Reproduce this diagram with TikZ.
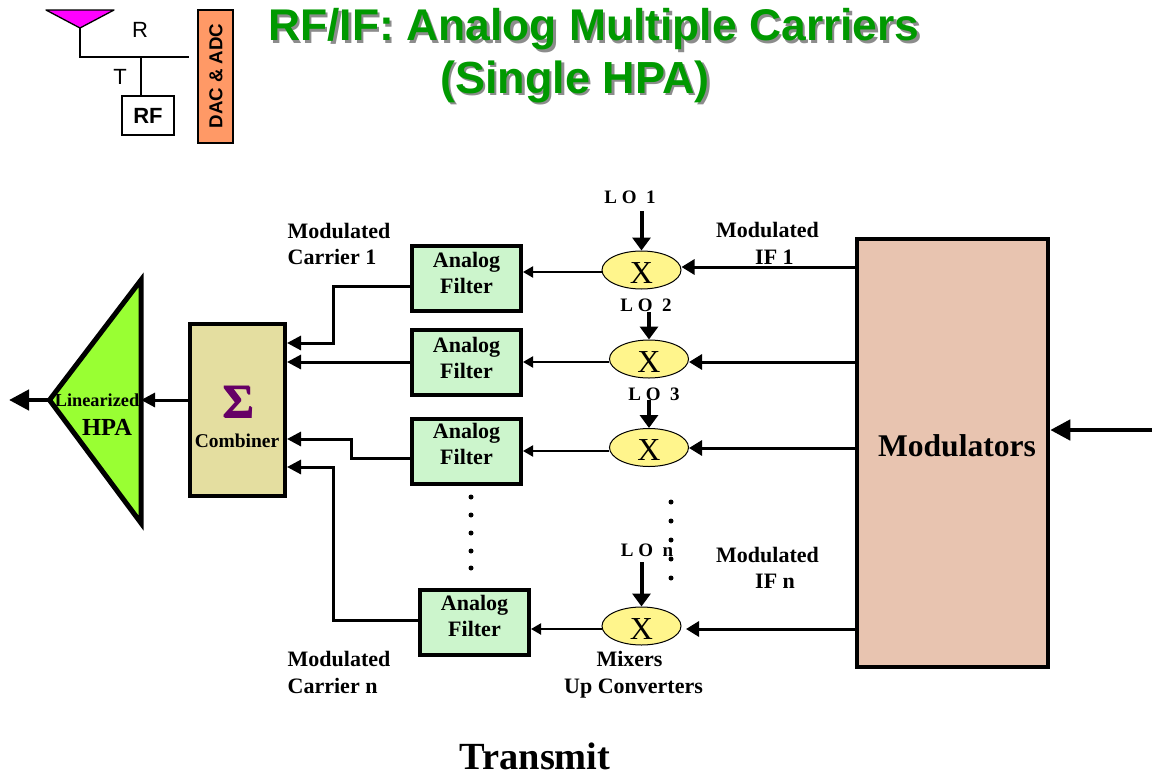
\documentclass[tikz,border=0pt]{standalone}
\usepackage{fontspec}
\setmainfont{Liberation Serif}
\newfontfamily\arialf{Liberation Sans}
\usetikzlibrary{arrows.meta,shapes.geometric,calc}
\definecolor{titleg}{RGB}{0,153,0}
\definecolor{filtg}{RGB}{204,245,204}
\definecolor{combf}{RGB}{228,222,160}
\definecolor{modf}{RGB}{232,196,176}
\definecolor{mixf}{RGB}{255,245,140}
\definecolor{hpaf}{RGB}{153,255,51}
\definecolor{dacf}{RGB}{255,153,102}
\definecolor{antf}{RGB}{255,0,255}
\definecolor{sigf}{RGB}{102,0,102}
\newcommand{\fs}[2]{\fontsize{#1}{#2}\selectfont}
\newcommand{\afilter}[1]{\raisebox{#1}[0pt][0pt]{\begin{tabular}{@{}c@{}}Analog\\Filter\end{tabular}}}
\newcommand{\xmark}{\raisebox{-13pt}[0pt][0pt]{X}}
\newcommand{\shadowed}[3]{\raisebox{-#1}{\rlap{\kern#1\textcolor{#2}{#3}}}#3}
\tikzset{
  filt/.style={draw,line width=4pt,fill=filtg,minimum width=109pt,minimum height=65pt,inner sep=0pt,font=\fs{22}{26}\bfseries},
  mixer/.style={ellipse,draw,line width=1pt,fill=mixf,minimum width=79pt,minimum height=38pt,inner sep=0pt,font=\fs{32}{32}},
  lbl/.style={font=\fs{22}{26.5}\bfseries,inner sep=0pt,align=left},
  lo/.style={font=\fs{19}{20}\bfseries,inner sep=0pt},
  big/.style={-{Triangle[length=20pt,width=20pt]},line width=4.5pt},
  med/.style={-{Triangle[length=13pt,width=15pt]},line width=3pt},
  loa/.style={-{Triangle[length=13pt,width=18pt]},line width=4pt},
  thinar/.style={-{Triangle[length=10pt,width=11pt]},line width=2pt},
  comb/.style={-{Triangle[length=14pt,width=14pt]},line width=3pt},
  pt/.style={circle,fill=black,inner sep=0pt,minimum size=5pt},
  thinl/.style={line width=1.3pt},
  x=1pt,y=-1pt
}
\begin{document}
\begin{tikzpicture}
\useasboundingbox (0,0) rectangle (1152,777);
% top-left inset
\node[draw,thinl,minimum width=52pt,minimum height=39pt,inner sep=0pt,font=\arialf\fs{22}{24}\bfseries] (rf) at (148,115.5) {RF};
\node[draw,thinl,fill=dacf,minimum width=35pt,minimum height=133pt,inner sep=0pt] (dac) at (215.5,76.5) {};
\node[rotate=90,font=\arialf\fs{18.7}{20}\bfseries,inner sep=0pt] (dact) at (216,76) {DAC \& ADC};
\node[font=\arialf\fs{22}{24},inner sep=0pt] (rl) at (140,30) {R};
\node[font=\arialf\fs{22}{24},inner sep=0pt] (tl) at (120,77) {T};
\coordinate (antL) at (46,10); \coordinate (antR) at (114,10); \coordinate (antB) at (80,28);
\coordinate (busL) at (80,57); \coordinate (busR) at (189,57); \coordinate (busT) at (141,57);
\draw[thinl,fill=antf,line join=round] (antL) -- (antR) -- (antB) -- cycle;
\draw[thinl] (antB) -- (busL) -- (busR);
\draw[thinl] (busT) -- (rf.north -| busT);
% title
\node[font=\arialf\fs{44.4}{50}\bfseries,text=titleg,inner sep=0pt] (t1) at (594,30.5) {\shadowed{2.5pt}{black!45}{RF/IF: Analog Multiple Carriers}};
\node[font=\arialf\fs{45}{50}\bfseries,text=titleg,inner sep=0pt] (t2) at (575,83) {\shadowed{2.5pt}{black!45}{(Single HPA)}};
% HPA
\coordinate (hpaA) at (49.5,400); \coordinate (hpaT) at (141,280); \coordinate (hpaB) at (141,523);
\coordinate (outEnd) at (9,400);
\draw[line width=5pt,fill=hpaf,line join=miter,miter limit=10] (hpaA) -- (hpaT) -- (hpaB) -- cycle;
\draw[big] (hpaA) -- (outEnd);
% combiner
\node[draw,line width=4pt,fill=combf,minimum width=95pt,minimum height=172pt,inner sep=0pt] (comb) at (237.5,410) {};
\node[font=\fs{48}{48}\bfseries,inner sep=0pt] (sigma) at (238,402) {\shadowed{1.2pt}{black}{\textcolor{sigf}{Σ}}};
\node[font=\fs{19.5}{22}\bfseries,inner sep=0pt] (combt) at (237,441) {Combiner};
\draw[comb] (comb.west |- hpaA) -- (hpaT |- hpaA);
\node[font=\fs{18.3}{20}\bfseries,inner sep=0pt] (lin) at (97,400) {Linearized};
\node[font=\fs{24.5}{26}\bfseries,inner sep=0pt] (hpat) at (107,427) {HPA};
% modulators
\node[draw,line width=4.5pt,fill=modf,minimum width=191pt,minimum height=428pt,inner sep=0pt] (mod) at (952.5,453) {};
\node[font=\fs{31.6}{34}\bfseries,inner sep=0pt] (modt) at (957,446) {Modulators};
\coordinate (inS) at (1152,430);
\draw[big] (inS) -- (mod.east |- inS);
% filters
\node[filt] (f1) at (466.5,278.5) {\afilter{-2pt}};
\node[filt] (f2) at (466.5,362) {\afilter{-3pt}};
\node[filt] (f3) at (466.5,451) {\afilter{0pt}};
\node[filt] (fn) at (474.5,622.5) {\afilter{-1pt}};
% mixers
\node[mixer] (m1) at (641.5,270) {\xmark};
\node[mixer] (m2) at (649,359) {\xmark};
\node[mixer] (m3) at (649,447.5) {\xmark};
\node[mixer] (mn) at (641.5,626) {\xmark};
% LO labels and arrows
\node[lo] (lo1) at (630,197) {L O\ \ 1};
\node[lo] (lo2) at (646,305) {L O\ \ 2};
\node[lo] (lo3) at (654,394) {L O\ \ 3};
\node[lo] (lon) at (647,550) {L O\ \ n};
\coordinate (s1) at (641.5,211); \coordinate (s2) at (649,312); \coordinate (s3) at (649,400); \coordinate (sn) at (641.5,562);
\draw[loa] (s1) -- (m1.north);
\draw[loa] (s2) -- (m2.north);
\draw[loa] (s3) -- (m3.north);
\draw[loa] (sn) -- (mn.north);
% row levels
\coordinate (i1) at (0,267); \coordinate (i2) at (0,362); \coordinate (i3) at (0,448); \coordinate (in) at (0,629);
\coordinate (o1) at (0,272); \coordinate (o2) at (0,362); \coordinate (o3) at (0,451); \coordinate (on) at (0,629);
\draw[med] (mod.west |- i1) -- (m1.east |- i1);
\draw[med] (mod.west |- i2) -- (m2.east |- i2);
\draw[med] (mod.west |- i3) -- (m3.east |- i3);
\coordinate (mnin) at (686,629);
\draw[med] (mod.west |- in) -- (mnin);
\draw[thinar] (m1.west |- o1) -- (f1.east |- o1);
\draw[thinar] (m2.west |- o2) -- (f2.east |- o2);
\draw[thinar] (m3.west |- o3) -- (f3.east |- o3);
\draw[thinar] (mn.west |- on) -- (fn.east |- on);
% filter to combiner
\coordinate (c1y) at (0,343); \coordinate (c3y) at (0,439); \coordinate (cny) at (0,467);
\coordinate (bus1) at (333,286); \coordinate (bus3) at (351,458); \coordinate (busn) at (333,620);
\draw[comb] (f1.west |- bus1) -- (bus1) -- (bus1 |- c1y) -- (comb.east |- c1y);
\draw[comb] (f2.west |- o2) -- (comb.east |- o2);
\draw[comb] (f3.west |- bus3) -- (bus3) -- (bus3 |- c3y) -- (comb.east |- c3y);
\draw[comb] (fn.west |- busn) -- (busn) -- (busn |- cny) -- (comb.east |- cny);
% dots
\foreach \n/\y in {a/497,b/515,c/533,d/551,e/568} \node[pt] (dl\n) at (471,\y) {};
\foreach \n/\y in {a/502,b/521,c/540,d/559,e/578} \node[pt] (dr\n) at (671,\y) {};
% labels
\node[lbl,anchor=west] (mc1) at (287.5,244) {Modulated\\Carrier 1};
\node[lbl,anchor=west] (mcn) at (287.5,672.5) {Modulated\\Carrier n};
\node[lbl,anchor=west] (mi1) at (716,243.5) {Modulated\\\hspace*{39pt}IF 1};
\node[lbl,anchor=west] (min) at (716,568) {Modulated\\\hspace*{39pt}IF n};
\node[font=\fs{22}{26.5}\bfseries,inner sep=0pt,align=center] (mix) at (633.5,674.5) {\hspace*{-8pt}Mixers\\Up Converters};
\node[font=\fs{38.4}{40}\bfseries,inner sep=0pt] (tx) at (535,756) {Transmit};
\end{tikzpicture}
\end{document}
